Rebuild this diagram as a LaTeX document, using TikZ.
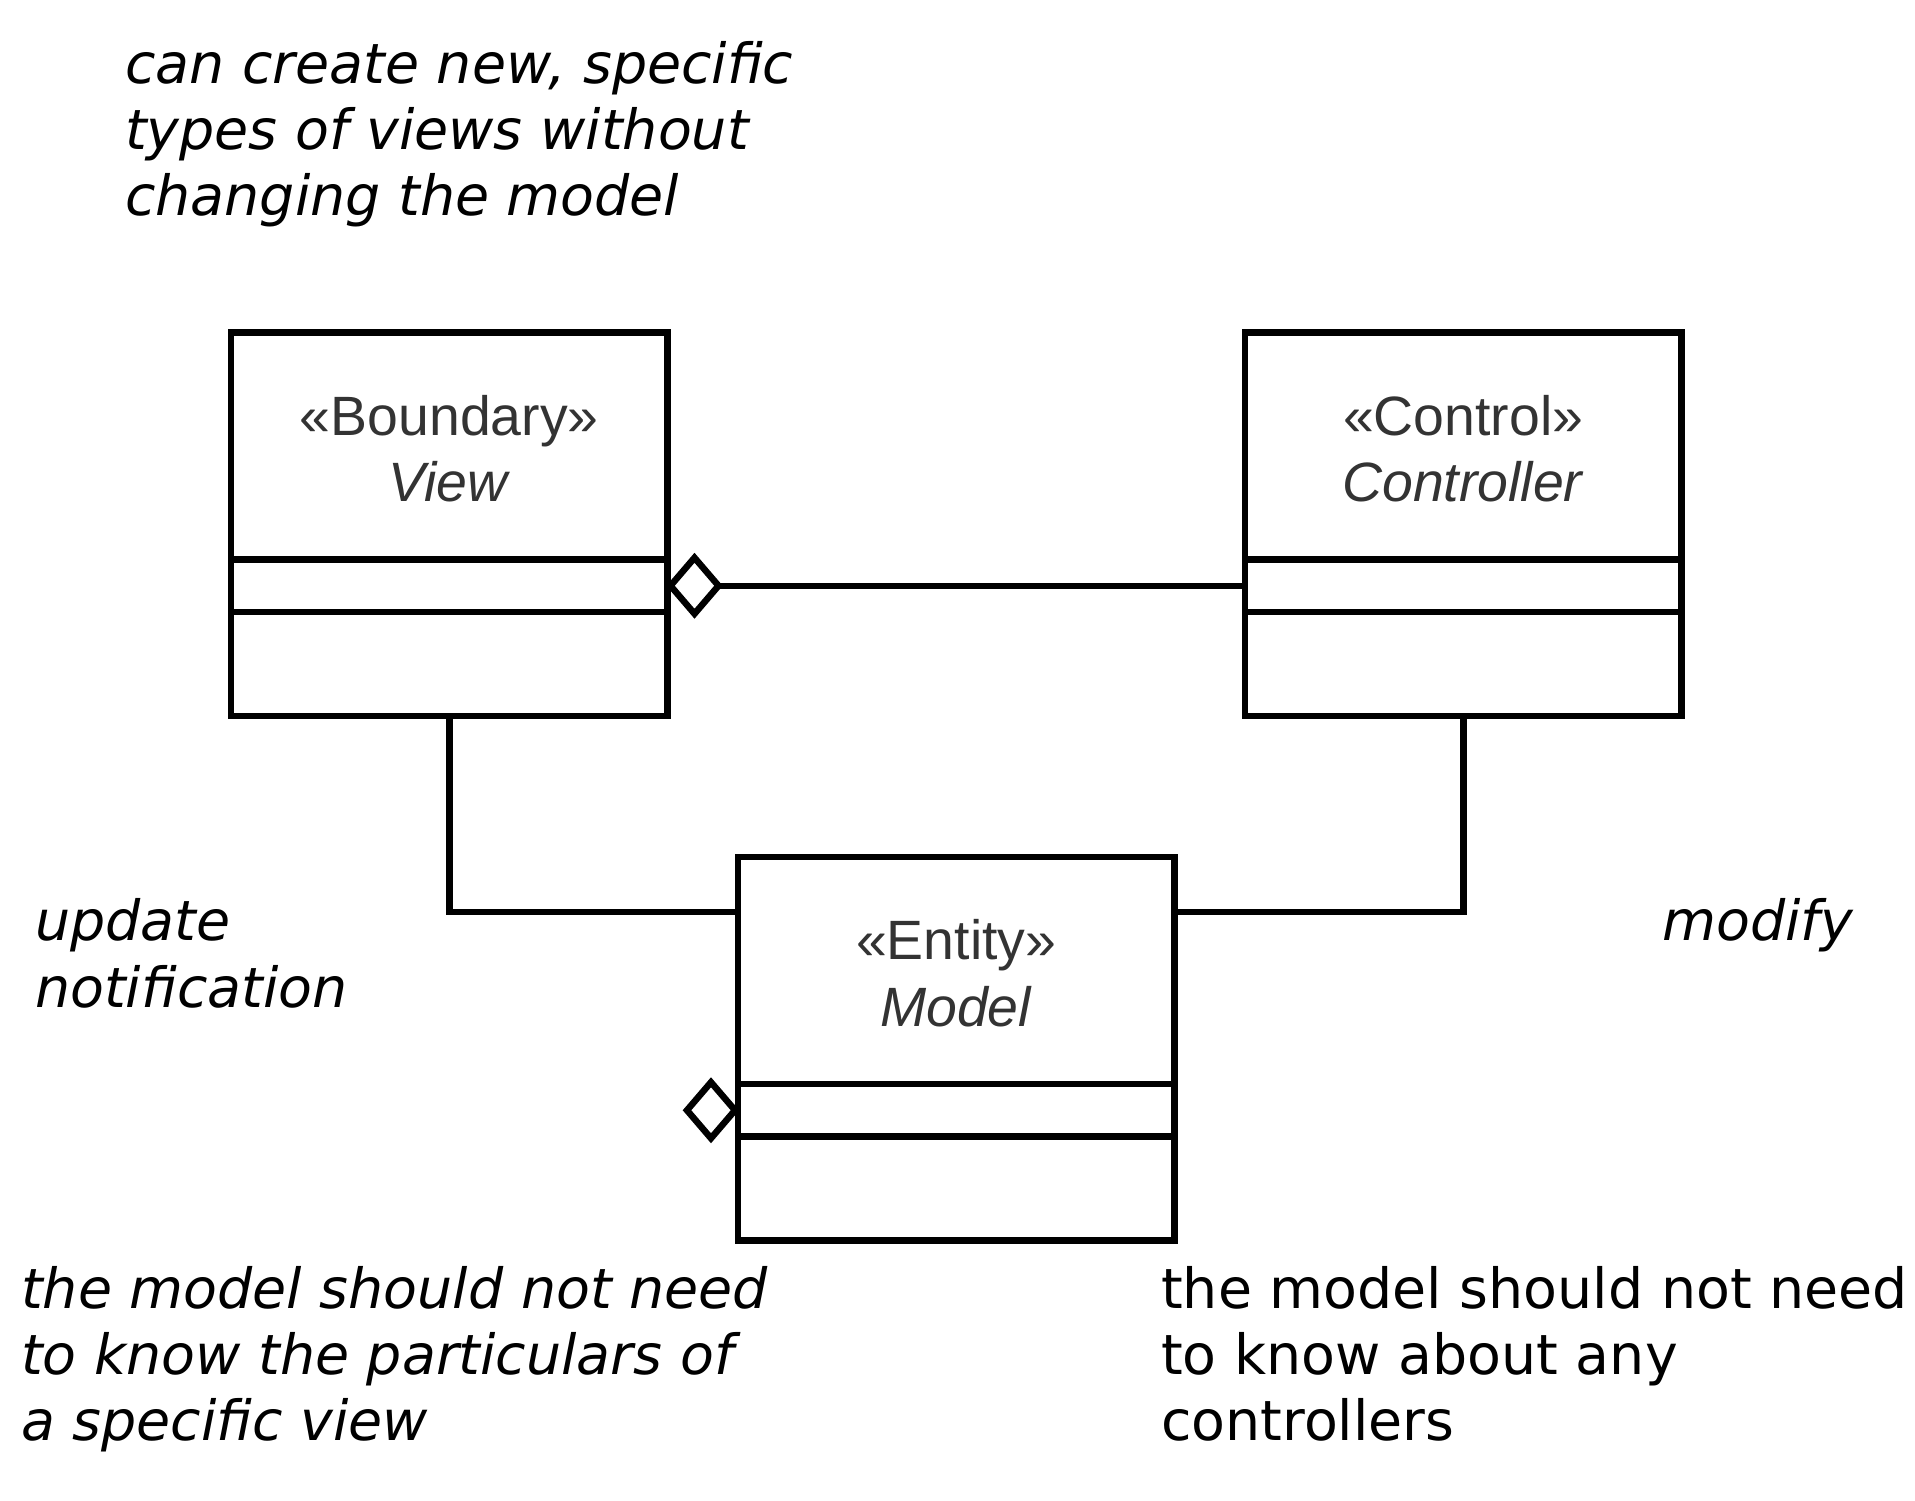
\documentclass[tikz,border=0pt]{standalone}
\usepackage{fontspec}
\setmainfont{DejaVu Sans}
\newfontfamily\labelfont{Liberation Sans}
\usetikzlibrary{shapes.geometric}
\definecolor{labelgray}{HTML}{333333}
\begin{document}
\begin{tikzpicture}[x=1pt,y=-1pt,
  umlbox/.style={draw, line width=6.5pt, minimum width=436.5pt, minimum height=383.5pt, inner sep=0pt, outer sep=0pt},
  compline/.style={line width=6.5pt},
  conn/.style={line width=6.5pt},
  aggr/.style={diamond, draw, fill=white, line width=6.5pt, minimum width=48pt, minimum height=56pt, inner sep=0pt, outer sep=0pt},
  note/.style={inner sep=0pt, anchor=base west, align=left, font=\fontsize{55.4pt}{66.3pt}\selectfont\itshape},
  noteup/.style={inner sep=0pt, anchor=base west, align=left, font=\fontsize{55.4pt}{66.3pt}\selectfont},
  lbl/.style={inner sep=0pt, anchor=base, align=center, text=labelgray, font=\labelfont\fontsize{55.4pt}{66.7pt}\selectfont}
]
\useasboundingbox (0,0) rectangle (1915,1500);

% class boxes
\node[umlbox, anchor=north west] (view) at (231,332.5) {};
\node[umlbox, anchor=north west] (ctrl) at (1245,332.5) {};
\node[umlbox, anchor=north west] (model) at (738,857) {};

% compartments
\foreach \b in {view,ctrl,model}{
  \draw[compline] ([yshift=-227pt]\b.north west) -- ([yshift=-227pt]\b.north east);
  \draw[compline] ([yshift=-279.5pt]\b.north west) -- ([yshift=-279.5pt]\b.north east);
}

% labels (base anchor = baseline of last line)
\node[lbl] (viewlbl) at ([yshift=-169.2pt]view.north) {«Boundary»\\\textit{View}};
\node[lbl] (ctrllbl) at ([yshift=-169.2pt]ctrl.north) {«Control»\\\textit{Controller}};
\node[lbl] (modellbl) at ([yshift=-169.2pt]model.north) {«Entity»\\\textit{Model}};

% aggregation diamonds
\node[aggr, anchor=west] (vd) at ([yshift=-253.25pt, xshift=3pt]view.north east) {};
\node[aggr, anchor=east] (md) at ([yshift=-253.25pt, xshift=-3pt]model.north west) {};

% connectors
\coordinate (mleft) at ([yshift=-55pt]model.north west);
\coordinate (mright) at ([yshift=-55pt]model.north east);
\draw[conn] (vd.east) -- (vd.east -| ctrl.west);
\draw[conn] (view.south) |- (mleft);
\draw[conn] (mright) -| (ctrl.south);

% notes (base anchor = baseline of last line)
\node[note] (topnote) at (125,215.9) {can create new, specific\\types of views without\\changing the model};
\node[note] (upd) at (35,1007) {update\\notification};
\node[note] (mod) at (1662,940) {modify};
\node[note] (bl) at (21,1440.6) {the model should not need\\to know the particulars of\\a specific view};
\node[noteup] (br) at (1161,1440.6) {the model should not need\\to know about any\\controllers};
\end{tikzpicture}
\end{document}
